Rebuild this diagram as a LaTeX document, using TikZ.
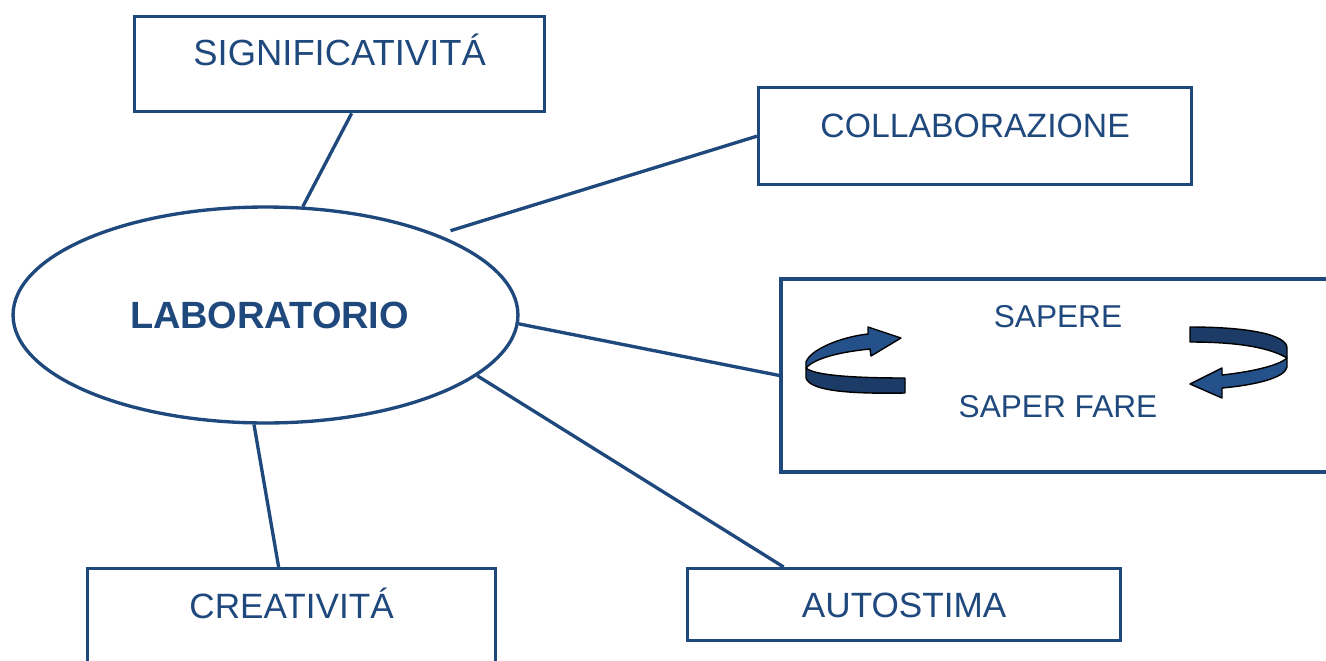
\documentclass[tikz,border=0pt]{standalone}
\usepackage{fontspec}
\setmainfont{Liberation Sans}
\usepackage[svgnames, dvipsnames]{xcolor}
\usetikzlibrary{calc, arrows.meta, shapes.geometric}
\definecolor{mapblue}{HTML}{1F497D}
\definecolor{ribbonfront}{HTML}{24518A}
\definecolor{ribbonback}{HTML}{1C3B66}

\begin{document}
\begin{tikzpicture}[x=0.02cm, y=-0.02cm,
    box/.style={draw=mapblue, line width=1.9pt, text=mapblue, inner sep=0pt, anchor=north west, font=\fontsize{20}{24}\selectfont},
    link/.style={draw=mapblue, line width=1.9pt},
    ribbon/.style={draw=black, line width=0.8pt, line join=round}]
    \clip (0,0) rectangle (1326,660);
    \fill[white] (0,0) rectangle (1326,660);
    \node[box, minimum width=8.2cm, text height=0.98cm, text depth=0.92cm, font=\fontsize{20.7}{24}\selectfont] (sig) at (133,15) {SIGNIFICATIVITÁ};
    \node[box, minimum width=8.66cm, text height=1.0cm, text depth=0.94cm, font=\fontsize{19.2}{24}\selectfont] (coll) at (757,86) {COLLABORAZIONE};
    \node[box, minimum width=8.16cm, text height=1.0cm, text depth=1.3cm] (crea) at (86,567) {CREATIVITÁ};
    \node[box, minimum width=8.66cm, text height=0.98cm, text depth=0.46cm] (auto) at (686,567) {AUTOSTIMA};
    \node[draw=mapblue, line width=1.9pt, minimum width=11.18cm, minimum height=3.86cm, inner sep=0pt] (sapbox) at (1060.5,375.5) {};
    \node[text=mapblue, font=\fontsize{18}{22}\selectfont, anchor=base] (sap) at (1058,327) {SAPERE};
    \node[text=mapblue, font=\fontsize{18}{22}\selectfont, anchor=base] (fare) at (1058,417) {SAPER FARE};
    \node[draw=mapblue, ellipse, line width=1.9pt, minimum width=10.1cm, minimum height=4.32cm, inner sep=0pt, text=mapblue, font=\bfseries\fontsize{21.6}{25}\selectfont] (lab) at (265.5,315) {\hspace*{0.16cm}LABORATORIO};
    \draw[link] ([xshift=0.24cm]sig.south) -- (lab.71);
    \draw[link, shorten >=0.26cm] (coll.west) -- (lab.25.4);
    \draw[link] (lab.-2.7) -- (sapbox.west);
    \draw[link] (lab.-16.6) -- ([xshift=-2.41cm]auto.north);
    \draw[link] (lab.264.4) -- ([xshift=-0.26cm]crea.north);
    \filldraw[ribbon, fill=ribbonback] (905,378) .. controls (860,378) and (815,376) .. (806,368) -- (806,378) .. controls (810,391) and (850,394) .. (905,393) -- cycle;
    \filldraw[ribbon, fill=ribbonfront] (806,362) .. controls (810,350) and (840,337) .. (868,334) -- (868,327) -- (901,338) -- (871,356) -- (870,349) .. controls (840,352) and (815,358) .. (806,368) -- cycle;
    \filldraw[ribbon, fill=ribbonback] (1190,327) .. controls (1250,327) and (1287,335) .. (1287,348) -- (1287,358) .. controls (1270,348) and (1240,342) .. (1190,342) -- cycle;
    \filldraw[ribbon, fill=ribbonfront] (1287,358) -- (1287,367) .. controls (1285,378) and (1255,385) .. (1222,388) -- (1222,398) -- (1190,384) -- (1222,368) -- (1222,375) .. controls (1250,372) and (1278,366) .. (1287,358) -- cycle;
\end{tikzpicture}
\end{document}
